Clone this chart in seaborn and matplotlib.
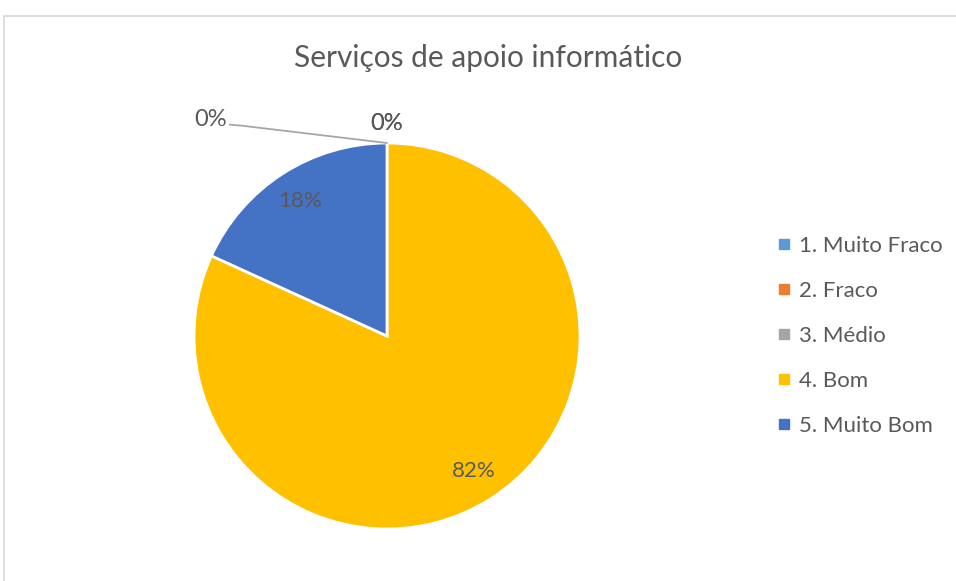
import numpy as np
import matplotlib
matplotlib.use('Agg')
import matplotlib.pyplot as plt
import seaborn as sb
from matplotlib.lines import Line2D
from matplotlib.patches import Rectangle

categories = ['1. Muito Fraco', '2. Fraco', '3. Médio', '4. Bom', '5. Muito Bom']
counts = [0, 0, 0, 9, 2]
pct_labels = ['0%', '0%', '0%', '82%', '18%']
title = 'Serviços de apoio informático'

sb.set_theme(style='white')
plt.rcParams['font.family'] = ['Lato', 'DejaVu Sans']
colors = ['#5B9BD5', '#ED7D31', '#A5A5A5', '#FFC000', '#4472C4']
txt = '#595959'
fs = 16

W, H = 956, 581
fig = plt.figure(figsize=(W / 100, H / 100), dpi=100)
fig.patch.set_facecolor('white')

# chart area border (cut off on right and bottom like the screenshot)
fig.patches.append(Rectangle((4 / W, -0.05), 1.1, 1 - 16 / H + 0.05, transform=fig.transFigure,
                             fill=False, edgecolor='#D9D9D9', linewidth=1.2))

cx, cy, r = 387, 336, 193
ax = fig.add_axes([(cx - r) / W, (H - cy - r) / H, 2 * r / W, 2 * r / H])
wedges, _ = ax.pie(counts, colors=colors, startangle=90, counterclock=False,
                   wedgeprops=dict(edgecolor='white', linewidth=2))
ax.set_xlim(-1, 1)
ax.set_ylim(-1, 1)
ax.set_aspect('equal')
ax.axis('off')

fig.text(0.511, 1 - 58 / H, title, ha='center', va='center', fontsize=21.5, color=txt)

# data labels
for i, w in enumerate(wedges):
    mid = np.deg2rad((w.theta1 + w.theta2) / 2)
    if counts[i] > 0:
        ax.text(0.83 * np.cos(mid), 0.83 * np.sin(mid), pct_labels[i], ha='center', va='center',
                fontsize=fs, color=txt)
    elif i < 2:
        ax.text(1.1 * np.cos(mid), 1.1 * np.sin(mid), pct_labels[i], ha='center', va='center',
                fontsize=fs + 1, color=txt)
    else:
        lx, ly = -0.915, 1.12
        ax.text(lx, ly, pct_labels[i], ha='center', va='center', fontsize=fs + 1, color=txt)
        ax.plot([lx + 0.1, lx + 0.16, np.cos(mid)], [ly - 0.025, ly - 0.03, np.sin(mid)],
                color='#A6A6A6', lw=1.3, clip_on=False)

handles = [Line2D([], [], marker='s', linestyle='none', markersize=6.5,
                  markerfacecolor=c, markeredgecolor=c) for c in colors]
fig.legend(handles, categories, loc='center left', bbox_to_anchor=(766 / W, 1 - 336 / H),
           frameon=False, fontsize=fs, labelcolor=txt, labelspacing=1.12,
           handlelength=0.8, handletextpad=0.3, borderaxespad=0)

fig.savefig('out.png', dpi=100)
